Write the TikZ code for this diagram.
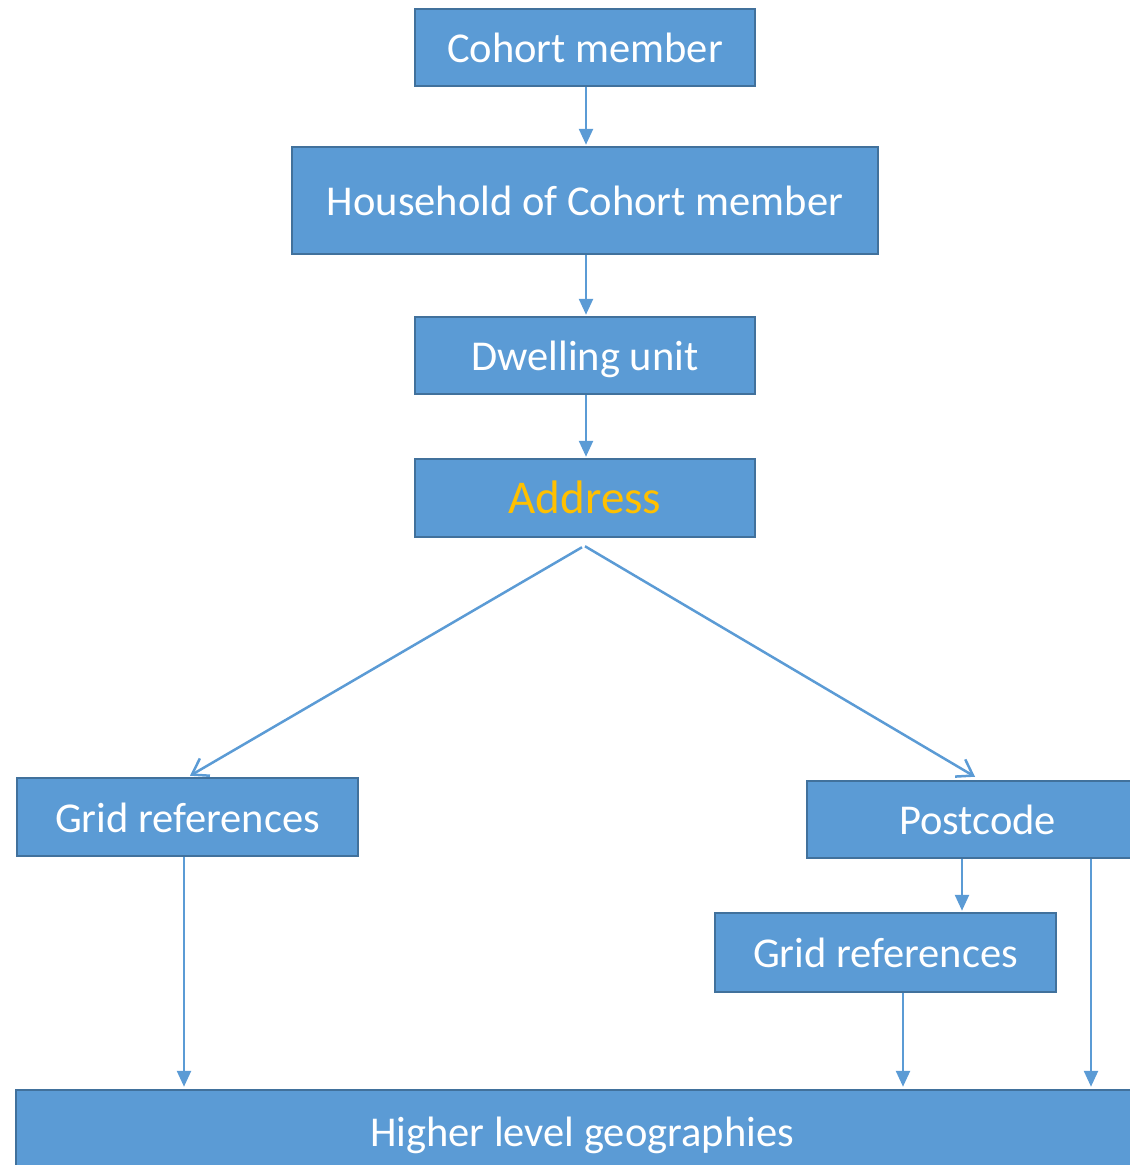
\documentclass[tikz,border=0pt]{standalone}
\usepackage{fontspec}
\setmainfont{Carlito}
\usetikzlibrary{arrows.meta}
\definecolor{boxfill}{HTML}{5B9BD5}
\definecolor{boxline}{HTML}{41719C}
\definecolor{addr}{HTML}{FFC000}
\tikzset{
  box/.style={draw=boxline, line width=2.5pt, fill=boxfill, text=white, inner sep=0pt,
    font=\fontsize{42.5}{50}\selectfont, anchor=center, text height=38pt, text depth=7.6pt},
  tri/.style={draw=boxfill, line width=2.5pt, -{Triangle[length=16pt,width=14pt]}},
  barb/.style={draw=boxfill, line width=2.5pt, -{Straight Barb[length=15pt,width=20pt]}},
}
\begin{document}
\begin{tikzpicture}[x=1pt,y=-1pt]
\useasboundingbox (0,0) rectangle (1130,1165);
\clip (0,0) rectangle (1130,1165);
\node[box, minimum width=340pt, minimum height=77pt] (cohort) at (585,47.5) {Cohort member};
\node[box, minimum width=586pt, minimum height=107pt] (household) at (585,200.5) {Household of Cohort member};
\node[box, minimum width=340pt, minimum height=77pt] (dwelling) at (585,355.5) {Dwelling unit};
\node[box, minimum width=340pt, minimum height=78pt, text=addr, font=\fontsize{47}{55}\selectfont] (address) at (585,498) {Address};
\node[box, minimum width=341pt, minimum height=78pt] (gridl) at (187.5,817) {Grid references};
\node[box, minimum width=341pt, minimum height=77pt] (postcode) at (977.5,819.5) {Postcode};
\node[box, minimum width=341pt, minimum height=79pt] (gridr) at (885.5,952.5) {Grid references};
\node[box, minimum width=1132pt, minimum height=82pt] (higher) at (582,1131) {Higher level geographies};

\draw[tri] ([xshift=1pt]cohort.south) -- ([xshift=1pt,yshift=1pt]household.north);
\draw[tri] ([xshift=1pt]household.south) -- ([xshift=1pt,yshift=1pt]dwelling.north);
\draw[tri] ([xshift=1pt]dwelling.south) -- ([xshift=1pt,yshift=1pt]address.north);

\coordinate (al) at ([xshift=-3pt,yshift=-9pt]address.south);
\coordinate (ar) at ([yshift=-8pt]address.south);
\draw[barb] (al) -- ([xshift=2.5pt,yshift=1pt]gridl.north);
\draw[barb] (ar) -- ([xshift=-2.5pt,yshift=3pt]postcode.north);

\draw[tri] ([xshift=-3.5pt]gridl.south) -- ([xshift=-3.5pt,yshift=2pt]gridl.south |- higher.north);
\draw[tri] ([xshift=-15.5pt]postcode.south) -- ([xshift=-15.5pt,yshift=1pt]postcode.south |- gridr.north);
\draw[tri] ([xshift=17.5pt]gridr.south) -- ([xshift=17.5pt,yshift=2pt]gridr.south |- higher.north);
\draw[tri] ([xshift=113.5pt]postcode.south) -- ([xshift=113.5pt,yshift=2pt]postcode.south |- higher.north);
\end{tikzpicture}
\end{document}
